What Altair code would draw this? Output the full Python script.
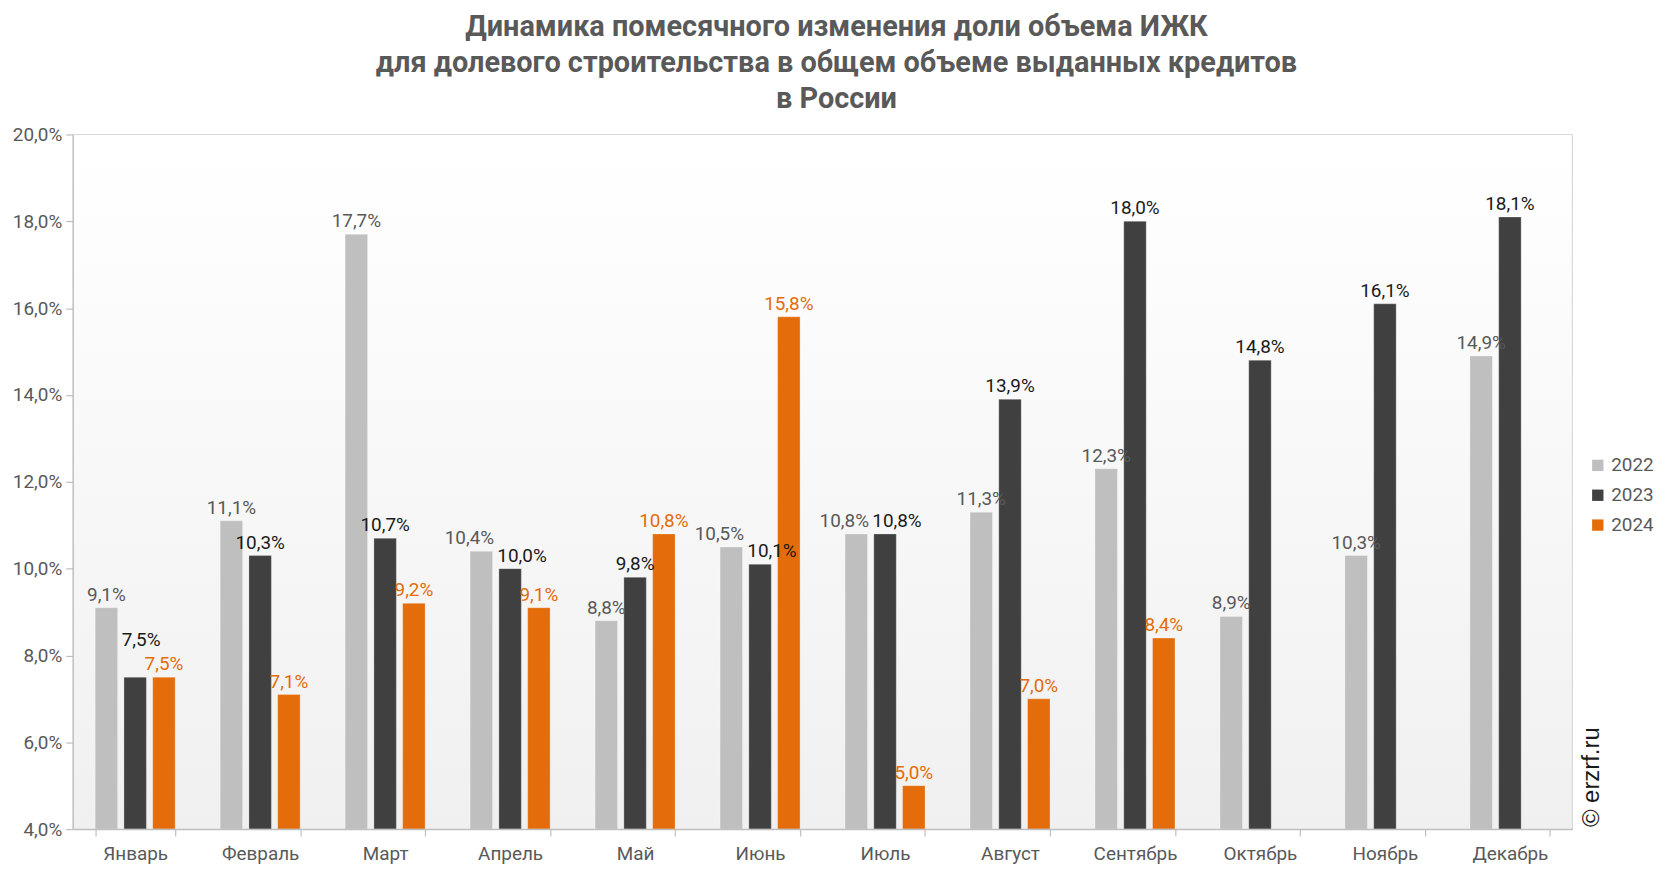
import altair as alt
import pandas as pd

months = ["Январь", "Февраль", "Март", "Апрель", "Май", "Июнь", "Июль",
          "Август", "Сентябрь", "Октябрь", "Ноябрь", "Декабрь"]
years = ["2022", "2023", "2024"]
v2022 = [9.1, 11.1, 17.7, 10.4, 8.8, 10.5, 10.8, 11.3, 12.3, 8.9, 10.3, 14.9]
v2023 = [7.5, 10.3, 10.7, 10.0, 9.8, 10.1, 10.8, 13.9, 18.0, 14.8, 16.1, 18.1]
v2024 = [7.5, 7.1, 9.2, 9.1, 10.8, 15.8, 5.0, 7.0, 8.4, None, None, None]

bar_colors = ["#bfbfbf", "#404040", "#e46c0a"]
text_colors = ["#595959", "#1a1a1a", "#e46c0a"]

# label placement: avoid collisions between labels of neighbouring bars
series = {"2022": v2022, "2023": v2023, "2024": v2024}
rows = []
for i, m in enumerate(months):
    present = [(y, series[y][i]) for y in years if series[y][i] is not None]
    shift = {y: (0, 0) for y, _ in present}
    for k in range(len(present) - 1):
        (ya, va), (yb, vb) = present[k], present[k + 1]
        if abs(va - vb) < 0.5:
            if k > 0 and present[k - 1][1] > va:
                shift[ya] = (6, -24)
            else:
                shift[ya] = (-12, 0)
                shift[yb] = (12, 0)
    for y, v in present:
        rows.append({"month": m, "year": y, "value": v,
                     "ldx": shift[y][0], "ldy": shift[y][1]})
df = pd.DataFrame(rows)

W, H = 1507, 698
fmt = "replace(format(datum.value, '.1f'), '.', ',') + '%'"

x_enc = alt.X("month:N", sort=months,
              scale=alt.Scale(paddingInner=0.36, paddingOuter=0.18),
              axis=alt.Axis(title=None, labelFontSize=19, labelColor="#595959",
                            labelFont="Roboto", domainColor="#bfbfbf", domainWidth=1.5,
                            tickColor="#bfbfbf", tickSize=7, tickWidth=1.2,
                            tickBand="extent", labelPadding=9, labelAngle=0, zindex=1))
xo_enc = alt.XOffset("year:N", sort=years, scale=alt.Scale(paddingInner=0.22))
y_enc = alt.Y("value:Q",
              scale=alt.Scale(domain=[4, 20], zero=False, nice=False),
              axis=alt.Axis(title=None, values=list(range(4, 21, 2)), labelExpr=fmt,
                            labelFontSize=19, labelColor="#595959", labelFont="Roboto",
                            domainColor="#bfbfbf", domainWidth=1.5, tickColor="#bfbfbf",
                            tickSize=7, tickWidth=1.2, grid=False, labelPadding=4, zindex=1))

bg = alt.Chart(pd.DataFrame({"a": [0]})).mark_rect(
    fill=alt.Gradient(gradient="linear", x1=0, x2=0, y1=0, y2=1,
                      stops=[alt.GradientStop(color="#ffffff", offset=0),
                             alt.GradientStop(color="#f0f0f0", offset=1)])
).encode(x=alt.value(0), x2=alt.value(W), y=alt.value(0), y2=alt.value(H))

top_rule = alt.Chart(pd.DataFrame({"a": [0]})).mark_rule(color="#d9d9d9", strokeWidth=1.2).encode(
    x=alt.value(0), x2=alt.value(W), y=alt.value(0))
right_rule = alt.Chart(pd.DataFrame({"a": [0]})).mark_rule(color="#d9d9d9", strokeWidth=1.2).encode(
    x=alt.value(W), y=alt.value(0), y2=alt.value(H))

base = alt.Chart(df)

bars = base.mark_bar(stroke="#ffffff", strokeWidth=0.8, strokeOpacity=0.35).encode(
    x=x_enc, xOffset=xo_enc, y=y_enc, y2=alt.datum(4),
    color=alt.Color("year:N", sort=years,
                    scale=alt.Scale(domain=years, range=bar_colors),
                    legend=alt.Legend(title=None, orient="none", legendX=1523, legendY=323,
                                      symbolType="square", symbolSize=130,
                                      symbolStrokeWidth=0, labelFontSize=19,
                                      labelFont="Roboto", labelColor="#595959",
                                      rowPadding=10, labelOffset=4)))

def label_layer(dx, dy):
    return base.transform_filter(
        f"datum.ldx == {dx} && datum.ldy == {dy}"
    ).transform_calculate(label=fmt).mark_text(
        fontSize=19, font="Roboto", baseline="alphabetic", dy=-7 + dy, dx=dx
    ).encode(
        x=alt.X("month:N", sort=months), xOffset=alt.XOffset("year:N", sort=years),
        y=alt.Y("value:Q"), text="label:N",
        color=alt.Color("year:N", scale=alt.Scale(domain=years, range=text_colors), legend=None))

combos = sorted(set(zip(df["ldx"], df["ldy"])))
labels = [label_layer(int(dx), int(dy)) for dx, dy in combos]

copy = alt.Chart(pd.DataFrame({"t": ["© erzrf.ru"]})).mark_text(
    angle=270, align="left", baseline="middle", fontSize=24, font="Liberation Sans",
    color="#1a1a1a"
).encode(x=alt.value(W + 20), y=alt.value(H - 2), text="t:N")

chart = alt.layer(bg, bars, *labels, top_rule, right_rule, copy).resolve_scale(
    color="independent"
).properties(
    width=W, height=H,
    title=alt.TitleParams(
        text=["Динамика помесячного изменения доли объема ИЖК",
              "для долевого строительства в общем объеме выданных кредитов",
              "в России"],
        fontSize=29, font="Roboto", fontWeight="bold", color="#595959",
        lineHeight=36, anchor="middle", offset=12, dx=14),
    autosize=alt.AutoSizeParams(type="none"),
    padding={"left": 65, "top": 125, "right": 86, "bottom": 41},
).configure_view(stroke=None)

chart.save("out.html", embed_options={"renderer": "svg", "actions": False})
